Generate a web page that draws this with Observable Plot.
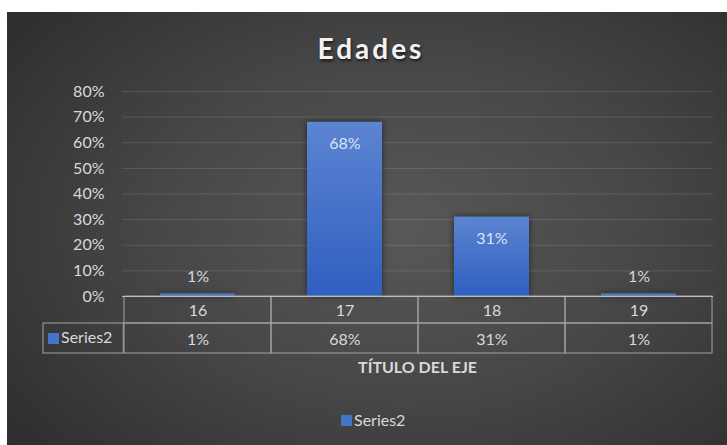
<!DOCTYPE html>
<html><head><meta charset="utf-8">
<script src="https://cdn.jsdelivr.net/npm/d3@7"></script>
<script src="https://cdn.jsdelivr.net/npm/@observablehq/plot@0.6"></script>
<style>
html,body{margin:0;padding:0;background:#fff;}
#chart{position:absolute;left:7px;top:12px;width:720px;height:433px;overflow:hidden;
  background: radial-gradient(ellipse 75% 85% at 55% 50%, #585858 0%, #474747 45%, #2a2a2a 100%);
  font-family: Lato, sans-serif; color:#d9d9d9;}
#chart svg{position:absolute;left:0;top:0;}
.lbl{position:absolute;white-space:nowrap;}
#title{left:0;width:728px;top:22px;text-align:center;font-weight:bold;font-size:28px;line-height:28px;letter-spacing:3px;color:#f2f2f2;text-shadow:1px 2px 3px rgba(0,0,0,0.65);}
#xtitle{left:0;width:821px;top:347px;text-align:center;font-weight:bold;font-size:16px;line-height:16px;color:#d9d9d9;}
.key{position:absolute;width:11px;height:11px;background:#4773c6;}
.keytxt{position:absolute;font-size:16px;line-height:16px;color:#d9d9d9;}
</style></head>
<body>
<div id="chart"></div>
<script>
const ages = ["16", "17", "18", "19"];
const shares = [0.01, 0.68, 0.31, 0.01];
const yTicks = [0, 0.1, 0.2, 0.3, 0.4, 0.5, 0.6, 0.7, 0.8];
const seriesName = "Series2";
const titleText = "Edades";
const axisTitle = "TÍTULO DEL EJE";

const data = ages.map((a, i) => ({age: a, share: shares[i]}));
const fmt = d3.format(".0%");

const W = 720, H = 433, mL = 115, mR = 14, mT = 79, mB = 149;
const step = (W - mL - mR) / ages.length;
const inset = Math.round(step * 0.245);
const row1 = 27, row2 = 30;
const gridColor = "rgba(255,255,255,0.13)";
const lineColor = "#a3a3a3";
const txt = "#d9d9d9";

const svg = Plot.plot({
  width: W, height: H,
  marginLeft: mL, marginRight: mR, marginTop: mT, marginBottom: mB,
  style: {background: "transparent", fontFamily: "Lato, sans-serif", fontSize: "16px", color: txt, overflow: "visible"},
  x: {domain: ages, padding: 0, axis: null},
  y: {domain: [0, 0.8], ticks: yTicks, tickFormat: fmt, tickSize: 0, tickPadding: 18, label: null},
  marks: [
    Plot.ruleY(yTicks.filter(t => t > 0), {stroke: gridColor}),
    Plot.barY(data, {x: "age", y: "share", fill: "url(#barGrad)", insetLeft: inset, insetRight: inset}),
    Plot.text(data.filter(d => d.share >= 0.1), {x: "age", y: "share", text: d => fmt(d.share), dy: 22, fill: "#dbe3f3", fontSize: 16}),
    Plot.text(data.filter(d => d.share < 0.1), {x: "age", y: "share", text: d => fmt(d.share), dy: -17, fill: txt, fontSize: 16}),
    // data table cells
    Plot.barY(ages, {x: d => d, y1: 0, y2: 0, insetTop: 0, insetBottom: -row1, fill: "none", stroke: lineColor}),
    Plot.barY(ages, {x: d => d, y1: 0, y2: 0, insetTop: row1, insetBottom: -(row1 + row2), fill: "none", stroke: lineColor}),
    Plot.barY([ages[0]], {x: d => d, y1: 0, y2: 0, insetTop: row1, insetBottom: -(row1 + row2), insetLeft: -81, insetRight: step, fill: "none", stroke: lineColor}),
    Plot.text(ages, {x: d => d, y: 0, dy: row1 / 2 + 1, text: d => d, fill: txt, fontSize: 16}),
    Plot.text(data, {x: "age", y: 0, dy: row1 + row2 / 2 + 1, text: d => fmt(d.share), fill: txt, fontSize: 16}),
    Plot.ruleY([0], {stroke: "#bdbdbd"})
  ]
});

const defs = d3.select(svg).insert("defs", ":first-child");
const grad = defs.append("linearGradient").attr("id", "barGrad").attr("x1", 0).attr("y1", 0).attr("x2", 0).attr("y2", 1);
grad.append("stop").attr("offset", "0%").attr("stop-color", "#5c84d1");
grad.append("stop").attr("offset", "100%").attr("stop-color", "#2f5fc0");
d3.select(svg).select('g[aria-label="bar"]').style("filter", "drop-shadow(0px 0px 3px rgba(0,0,0,0.55))");

const chart = document.getElementById("chart");
chart.appendChild(svg);

function addDiv(cls, id, text, styles) {
  const el = document.createElement("div");
  el.className = cls;
  if (id) el.id = id;
  if (text) el.textContent = text;
  Object.assign(el.style, styles || {});
  chart.appendChild(el);
  return el;
}
addDiv("lbl", "title", titleText);
addDiv("lbl", "xtitle", axisTitle);
// table legend key
addDiv("key", null, null, {left: "41px", top: "321px"});
addDiv("keytxt", null, seriesName, {left: "54px", top: "317px"});
// bottom legend
addDiv("key", null, null, {left: "334px", top: "403px"});
addDiv("keytxt", null, seriesName, {left: "347px", top: "400px"});
</script>
</body></html>
